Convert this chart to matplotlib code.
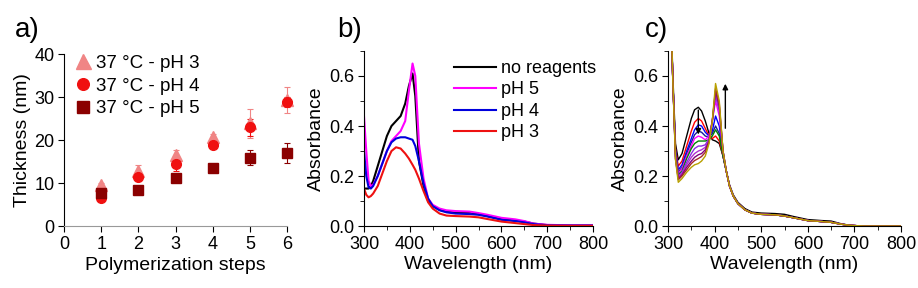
import matplotlib
matplotlib.use("Agg")
import matplotlib.pyplot as plt
from matplotlib.ticker import MultipleLocator

plt.rcParams["font.family"] = ["Liberation Sans", "DejaVu Sans"]

# ---- panel a: thickness vs polymerization steps ----
steps = [1, 2, 3, 4, 5, 6]
thick_ph3 = [9.6, 12.9, 16.6, 20.7, 23.9, 29.4]
err_ph3 = [0.5, 1.2, 1.0, 0.8, 3.3, 3.0]
thick_ph4 = [6.6, 11.4, 14.4, 18.9, 23.0, 28.9]
err_ph4 = [0.5, 1.0, 1.5, 0.8, 2.0, 1.2]
thick_ph5 = [7.6, 8.5, 11.1, 13.6, 15.9, 17.0]
err_ph5 = [0.5, 0.5, 0.5, 0.5, 1.8, 2.3]

# ---- panel b: absorbance spectra at different pH ----
wl_b = [300, 305, 310, 315, 320, 330, 340, 350, 360, 370, 380, 390, 398,
        406, 412, 420, 430, 440, 450, 465, 480, 500, 530, 550, 570, 600,
        630, 650, 670, 700, 750, 800]
abs_noreag = [0.15, 0.15, 0.15, 0.16, 0.18, 0.24, 0.30, 0.36, 0.40, 0.42,
              0.44, 0.49, 0.56, 0.61, 0.52, 0.26, 0.16, 0.10, 0.08, 0.065,
              0.058, 0.055, 0.055, 0.048, 0.040, 0.028, 0.022, 0.018,
              0.010, 0.004, 0.002, 0.002]
abs_ph5 = [0.44, 0.30, 0.18, 0.16, 0.165, 0.20, 0.25, 0.30, 0.34, 0.36,
           0.38, 0.42, 0.54, 0.65, 0.60, 0.33, 0.19, 0.11, 0.085, 0.07,
           0.063, 0.060, 0.058, 0.052, 0.045, 0.033, 0.027, 0.020, 0.010,
           0.005, 0.003, 0.003]
abs_ph4 = [0.30, 0.20, 0.155, 0.15, 0.16, 0.20, 0.25, 0.30, 0.335, 0.35,
           0.355, 0.355, 0.35, 0.345, 0.32, 0.26, 0.17, 0.11, 0.08, 0.063,
           0.055, 0.050, 0.048, 0.045, 0.038, 0.025, 0.020, 0.015, 0.008,
           0.003, 0.002, 0.002]
abs_ph3 = [0.15, 0.125, 0.115, 0.12, 0.13, 0.16, 0.21, 0.26, 0.30, 0.315,
           0.31, 0.29, 0.27, 0.245, 0.225, 0.19, 0.14, 0.095, 0.07, 0.05,
           0.042, 0.040, 0.038, 0.035, 0.028, 0.018, 0.012, 0.008, 0.004,
           0.002, 0.001, 0.001]

# ---- panel c: time evolution of the spectrum ----
wl_c_head = [305, 310, 316, 322, 330, 340, 350, 357, 365, 372, 380, 388,
             395, 402, 410, 418]
wl_c_tail = [425, 432, 440, 450, 465, 480, 500, 530, 550, 570, 600, 630,
             650, 670, 690, 720, 800]
tail_c = [0.22, 0.16, 0.12, 0.09, 0.065, 0.052, 0.047, 0.045, 0.040, 0.033,
          0.022, 0.018, 0.015, 0.008, 0.003, 0.0, 0.0]
tail_c_first = [0.22, 0.165, 0.125, 0.095, 0.07, 0.056, 0.052, 0.050, 0.047,
                0.038, 0.026, 0.022, 0.020, 0.010, 0.003, 0.0, 0.0]
heads_c = [
    [0.95, 0.62, 0.33, 0.265, 0.29, 0.36, 0.43, 0.465, 0.475, 0.46, 0.42, 0.37, 0.345, 0.34, 0.33, 0.28],
    [0.95, 0.60, 0.31, 0.24, 0.26, 0.32, 0.38, 0.415, 0.43, 0.42, 0.39, 0.36, 0.35, 0.36, 0.34, 0.28],
    [0.95, 0.60, 0.30, 0.225, 0.245, 0.30, 0.35, 0.385, 0.405, 0.40, 0.375, 0.36, 0.38, 0.44, 0.40, 0.29],
    [0.95, 0.60, 0.30, 0.215, 0.235, 0.29, 0.335, 0.365, 0.38, 0.375, 0.36, 0.355, 0.37, 0.40, 0.37, 0.28],
    [0.95, 0.60, 0.29, 0.21, 0.23, 0.28, 0.32, 0.35, 0.36, 0.355, 0.345, 0.36, 0.42, 0.50, 0.44, 0.29],
    [0.95, 0.60, 0.29, 0.205, 0.22, 0.27, 0.31, 0.33, 0.34, 0.34, 0.34, 0.345, 0.36, 0.385, 0.36, 0.28],
    [0.95, 0.60, 0.28, 0.20, 0.215, 0.255, 0.29, 0.31, 0.32, 0.32, 0.325, 0.35, 0.42, 0.52, 0.46, 0.30],
    [0.95, 0.60, 0.28, 0.195, 0.21, 0.245, 0.275, 0.29, 0.30, 0.305, 0.315, 0.345, 0.42, 0.53, 0.47, 0.30],
    [0.95, 0.60, 0.27, 0.19, 0.205, 0.235, 0.26, 0.275, 0.285, 0.29, 0.305, 0.34, 0.42, 0.54, 0.48, 0.30],
    [0.95, 0.60, 0.27, 0.185, 0.20, 0.225, 0.25, 0.262, 0.27, 0.278, 0.295, 0.335, 0.42, 0.55, 0.49, 0.30],
    [0.95, 0.60, 0.265, 0.175, 0.19, 0.215, 0.235, 0.245, 0.25, 0.26, 0.28, 0.33, 0.42, 0.57, 0.50, 0.30],
]
colors_c = ["black", "red", "blue", "#1a1a9a", "magenta", "#008000",
            "#8a2be2", "#b030d0", "#800080", "#a52a2a", "#b8a000"]

TICK_FS = 13
LABEL_FS = 14


def style_axis(ax):
    ax.spines["top"].set_visible(False)
    ax.spines["right"].set_visible(False)
    ax.tick_params(which="both", direction="out", labelsize=TICK_FS, pad=3)
    ax.tick_params(which="major", length=4)
    ax.tick_params(which="minor", length=3)


def plot_thickness(ax):
    series = [
        (thick_ph3, err_ph3, "^", "#f08585", 9, "37 °C - pH 3"),
        (thick_ph4, err_ph4, "o", "#f01010", 7, "37 °C - pH 4"),
        (thick_ph5, err_ph5, "s", "#8b0000", 7, "37 °C - pH 5"),
    ]
    for vals, errs, mk, col, ms, lab in series:
        ax.errorbar(steps, vals, yerr=errs, fmt=mk, color=col, ms=ms,
                    mec=col, elinewidth=0.8, capsize=2, capthick=0.8,
                    label=lab, clip_on=False, zorder=3)
    ax.set_xlim(0, 6)
    ax.set_ylim(0, 40)
    ax.xaxis.set_major_locator(MultipleLocator(1))
    ax.yaxis.set_major_locator(MultipleLocator(10))
    style_axis(ax)
    ax.spines["bottom"].set_color("#999999")
    ax.set_xlabel("Polymerization steps", fontsize=LABEL_FS, labelpad=3)
    ax.set_ylabel("Thickness (nm)", fontsize=LABEL_FS, labelpad=2)
    handles, labels = ax.get_legend_handles_labels()
    handles = [h[0] for h in handles]
    ax.legend(handles, labels, loc="upper left", frameon=False,
              fontsize=13.5, handletextpad=0.1, labelspacing=0.3,
              borderaxespad=0.0, handlelength=1.2, markerscale=1.2,
              bbox_to_anchor=(0.0, 1.04))


def plot_ph_spectra(ax):
    ax.plot(wl_b, abs_noreag, color="black", lw=1.5, label="no reagents")
    ax.plot(wl_b, abs_ph5, color="#ff00ff", lw=1.5, label="pH 5")
    ax.plot(wl_b, abs_ph4, color="#0000dd", lw=1.5, label="pH 4")
    ax.plot(wl_b, abs_ph3, color="#ee1111", lw=1.5, label="pH 3")
    ax.set_xlim(300, 800)
    ax.set_ylim(0, 0.7)
    ax.xaxis.set_major_locator(MultipleLocator(100))
    ax.xaxis.set_minor_locator(MultipleLocator(50))
    ax.yaxis.set_major_locator(MultipleLocator(0.2))
    ax.yaxis.set_minor_locator(MultipleLocator(0.1))
    style_axis(ax)
    ax.set_xlabel("Wavelength (nm)", fontsize=LABEL_FS, labelpad=2)
    ax.set_ylabel("Absorbance", fontsize=LABEL_FS, labelpad=3)
    ax.legend(loc="upper right", frameon=False, fontsize=13,
              handlelength=2.3, handletextpad=0.3, labelspacing=0.25,
              borderaxespad=0.0, bbox_to_anchor=(1.045, 0.99))


def plot_kinetics(ax):
    for head, col in zip(heads_c, colors_c):
        tail = tail_c_first if col == "black" else tail_c
        ax.plot(wl_c_head + wl_c_tail, head + tail, color=col, lw=1.0)
    ax.annotate("", xy=(365, 0.355), xytext=(365, 0.475),
                arrowprops=dict(arrowstyle="-|>", color="black", lw=1.0,
                                mutation_scale=8))
    ax.annotate("", xy=(423, 0.58), xytext=(423, 0.38),
                arrowprops=dict(arrowstyle="-|>", color="black", lw=1.0,
                                mutation_scale=8))
    ax.set_xlim(300, 800)
    ax.set_ylim(0, 0.7)
    ax.xaxis.set_major_locator(MultipleLocator(100))
    ax.xaxis.set_minor_locator(MultipleLocator(50))
    ax.yaxis.set_major_locator(MultipleLocator(0.2))
    ax.yaxis.set_minor_locator(MultipleLocator(0.1))
    style_axis(ax)
    ax.set_xlabel("Wavelength (nm)", fontsize=LABEL_FS, labelpad=2)
    ax.set_ylabel("Absorbance", fontsize=LABEL_FS, labelpad=3)


def main():
    fig = plt.figure(figsize=(9.18, 2.88), dpi=100)
    ax_a = fig.add_axes([0.0697, 0.215, 0.243, 0.597])
    ax_b = fig.add_axes([0.3965, 0.215, 0.2495, 0.608])
    ax_c = fig.add_axes([0.7277, 0.215, 0.2538, 0.608])

    plot_thickness(ax_a)
    plot_ph_spectra(ax_b)
    plot_kinetics(ax_c)

    fig.text(0.016, 0.87, "a)", fontsize=20)
    fig.text(0.367, 0.87, "b)", fontsize=20)
    fig.text(0.702, 0.87, "c)", fontsize=20)

    fig.savefig("out.png", dpi=100)


if __name__ == "__main__":
    main()
